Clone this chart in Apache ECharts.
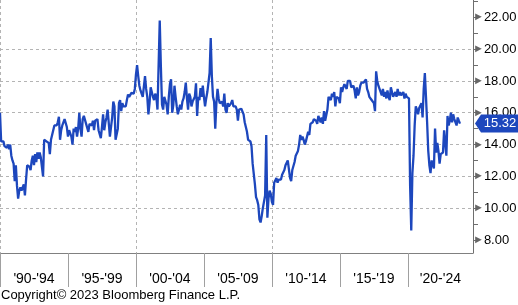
<!DOCTYPE html>
<html><head><meta charset="utf-8">
<script src="https://cdn.jsdelivr.net/npm/echarts@6/dist/echarts.min.js"></script>
<style>html,body{margin:0;padding:0;background:#fff}#c{width:518px;height:305px}</style>
</head><body><div id="c"></div>
<script>
// Monthly values, Jan 1990 .. Nov 2023 (month index 0 = Jan 1990)
const sales1990_94 = [
  16.0, 14.2, 14.1, 14.2, 13.9, 13.9, 13.8, 14.0, 13.7, 14.0, 13.3, 13.0,
  12.8, 11.7, 12.7, 11.4, 10.6, 11.1, 11.3, 11.1, 11.3, 11.5, 10.8, 11.8,
  12.7, 12.8, 12.6, 12.4, 13.0, 13.3, 12.7, 13.4, 12.9, 13.5, 13.1, 13.5,
  13.2, 13.3, 12.0, 14.3, 14.3, 14.2, 14.2, 14.1, 13.4, 14.3, 14.6, 14.7,
  15.2, 15.3, 15.2, 15.4, 15.75, 14.3, 14.9, 15.2, 15.1, 15.6, 15.5, 15.1
];
const sales1995_99 = [
  14.5, 14.9, 14.8, 14.5, 14.0, 15.0, 14.8, 15.1, 14.5, 15.0, 16.0, 15.0,
  14.5, 15.6, 15.8, 15.7, 15.3, 15.3, 14.8, 15.3, 15.2, 15.2, 15.5, 14.9,
  15.5, 15.4, 15.6, 14.9, 14.8, 14.4, 15.1, 15.9, 14.9, 15.4, 15.7, 16.2,
  16.2, 14.5, 15.1, 15.7, 16.7, 16.4, 14.3, 14.4, 15.0, 16.6, 16.8, 16.1,
  16.6, 16.4, 16.5, 16.4, 16.8, 17.15, 17.0, 17.1, 17.25, 17.25, 17.2, 17.5
];
const sales2000_04 = [
  18.4, 19.0, 18.3, 17.7, 17.4, 17.2, 17.0, 17.0, 18.3, 17.5, 17.0, 15.9,
  16.6, 17.6, 17.3, 17.0, 16.8, 17.2, 17.0, 16.2, 16.1, 21.8, 18.9, 16.5,
  16.2, 17.0, 17.0, 16.5, 15.9, 17.0, 17.8, 18.1, 16.0, 16.5, 17.7, 17.0,
  16.4, 15.9, 16.2, 16.5, 16.2, 16.7, 16.9, 17.3, 17.9, 16.9, 16.2, 17.2,
  17.0, 16.4, 16.7, 16.6, 17.0, 17.85, 15.8, 17.0, 16.8, 17.55, 17.0, 17.7
];
const sales2005_09 = [
  17.0, 16.4, 16.9, 17.3, 17.3, 18.5, 20.7, 18.3, 17.0, 16.7, 15.0, 16.6,
  17.5, 16.9, 16.6, 16.6, 16.7, 16.4, 17.2, 16.2, 16.0, 16.6, 16.4, 16.5,
  16.6, 16.8, 16.4, 16.5, 16.4, 16.2, 15.5, 16.2, 16.3, 16.25, 16.2, 15.9,
  15.4, 15.1, 14.8, 14.3, 14.4, 14.2, 13.9, 12.8, 12.7, 11.5, 10.7, 10.5,
  10.2, 9.3, 9.1, 9.5, 10.0, 10.0, 10.8, 14.6, 9.4, 10.6, 11.1, 10.9
];
const sales2010_14 = [
  10.4, 10.2, 11.6, 11.6, 11.9, 11.6, 11.8, 11.7, 11.8, 12.1, 12.2, 12.4,
  12.7, 12.8, 13.0, 13.1, 11.9, 11.7, 12.4, 12.5, 12.9, 13.3, 13.3, 13.6,
  14.0, 14.6, 14.3, 14.5, 14.3, 14.0, 14.2, 14.3, 14.8, 14.6, 15.3, 15.3,
  15.4, 15.6, 15.5, 15.5, 15.3, 15.8, 15.7, 15.4, 15.7, 15.3, 16.1, 15.5,
  15.4, 16.2, 17.0, 16.9, 16.8, 17.2, 17.0, 17.3, 16.4, 17.0, 17.0, 16.9
];
const sales2015_19 = [
  16.6, 17.6, 17.3, 17.6, 17.8, 17.7, 17.5, 18.0, 18.1, 18.0, 17.6, 17.7,
  17.7, 17.4, 16.9, 17.6, 17.1, 17.3, 17.7, 17.9, 17.85, 17.9, 18.0, 18.1,
  17.5, 17.3, 17.0, 17.1, 16.8, 16.9, 16.6, 16.1, 18.6, 18.0, 17.7, 17.8,
  17.3, 17.1, 17.5, 17.0, 17.3, 16.9, 17.4, 17.0, 16.8, 17.6, 17.5, 17.0,
  16.9, 17.3, 17.0, 17.5, 17.1, 17.3, 17.1, 17.0, 17.3, 16.9, 17.2, 17.0
];
const sales2020_23 = [
  17.1, 16.9, 11.4, 8.6, 12.2, 13.3, 15.2, 16.4, 16.2, 15.9, 16.3, 16.4,
  16.6, 15.7, 17.5, 18.5, 17.0, 15.4, 13.6, 12.7, 12.2, 13.0, 12.9, 12.5,
  15.0, 13.5, 14.1, 13.6, 12.8, 13.4, 13.3, 13.5, 14.9, 14.1, 13.3, 15.8,
  15.2, 15.5, 16.0, 15.4, 15.9, 15.6, 15.6, 15.2, 15.7, 15.5, 15.32
];

const periodLabels = ["'90-'94", "'95-'99", "'00-'04", "'05-'09", "'10-'14", "'15-'19", "'20-'24"];
const periodStarts = [0, 60, 120, 180, 240, 300, 360];          // month index of each 5-year block
const periodLabelAt = [30, 90, 150, 210, 270, 330, 388.75];      // label centres (month index)
const decadeLines = [0, 120, 240, 360];
const yTicks = [8, 10, 12, 14, 16, 18, 20, 22];
const yAllTicks = [8, 9, 10, 11, 12, 13, 14, 15, 16, 17, 18, 19, 20, 21, 22, 23];
const copyrightText = 'Copyright\u00A9 2023 Bloomberg Finance L.P.';

const X_MAX = 417.5, Y_MIN = 7.18, Y_MAX = 23.09;
const GRID_W = 473;
const FONT = 'Liberation Sans';
const LINE_COLOR = '#1d47bd';

const allValues = [].concat(sales1990_94, sales1995_99, sales2000_04, sales2005_09, sales2010_14, sales2015_19, sales2020_23);
const seriesData = allValues.map((v, i) => [i, v]);
const lastValue = allValues[allValues.length - 1];

const chart = echarts.init(document.getElementById('c'), null, {renderer: 'canvas'});
chart.setOption({
  animation: false,
  backgroundColor: '#fff',
  title: {
    text: copyrightText, left: 1, top: 289, padding: 0,
    textStyle: {fontSize: 13, fontWeight: 'normal', color: '#000', fontFamily: FONT}
  },
  grid: {left: 0, right: 518 - GRID_W, top: 0, bottom: 52, containLabel: false, outerBoundsMode: 'none'},
  xAxis: [
    {
      type: 'value', min: 0, max: X_MAX, position: 'bottom',
      axisLine: {show: true, onZero: false, lineStyle: {color: '#808080', width: 1}},
      axisTick: {show: true, customValues: periodStarts, length: 34, inside: false, lineStyle: {color: '#a0a0a0', width: 1}},
      axisLabel: {
        show: true, customValues: periodLabelAt, margin: 19,
        fontSize: 14, color: '#000', fontFamily: FONT,
        formatter: v => { const i = periodLabelAt.indexOf(v); return i >= 0 ? periodLabels[i] : ''; }
      },
      splitLine: {show: false}
    },
    {
      type: 'value', min: 0, max: X_MAX, position: 'bottom',
      axisLine: {show: false, onZero: false},
      axisTick: {show: false, customValues: decadeLines},
      axisLabel: {show: false},
      splitLine: {show: true, showMinLine: true, showMaxLine: false, lineStyle: {color: '#b4b4b4', type: [3, 3], width: 1}}
    }
  ],
  yAxis: [
    {
      type: 'value', min: Y_MIN, max: Y_MAX, position: 'right',
      axisLine: {show: true, onZero: false, lineStyle: {color: '#6e6e6e', width: 1}},
      axisTick: {show: true, customValues: yAllTicks, length: 5, inside: false, lineStyle: {color: '#6e6e6e', width: 1}},
      axisLabel: {
        show: true, customValues: yTicks, margin: 0,
        formatter: v => '{t|\u25BA}{v|' + v.toFixed(2) + '}',
        rich: {
          t: {fontSize: 11, color: '#666666', fontFamily: FONT},
          v: {fontSize: 13, color: '#000', fontFamily: FONT, padding: [0, 0, 0, 0]}
        }
      },
      splitLine: {show: false}
    },
    {
      // horizontal dashed grid lines only
      type: 'value', min: Y_MIN, max: Y_MAX, position: 'left',
      axisLine: {show: false, onZero: false},
      axisTick: {show: false, customValues: yTicks},
      axisLabel: {show: false},
      splitLine: {show: true, showMinLine: false, showMaxLine: false, lineStyle: {color: '#b4b4b4', type: [3, 3], width: 1}}
    }
  ],
  series: [{
    type: 'line', xAxisIndex: 0, yAxisIndex: 0,
    data: seriesData, showSymbol: false, symbol: 'none',
    lineStyle: {color: LINE_COLOR, width: 2.3},
    z: 3,
    markPoint: {
      silent: true,
      symbol: 'path://M0,9L6,0L46,0L46,18L6,18Z',
      symbolSize: [46, 18],
      symbolOffset: [25, 0],
      itemStyle: {color: LINE_COLOR},
      label: {show: true, position: 'inside', color: '#fff', fontSize: 13, fontFamily: FONT, offset: [2, 0],
               formatter: () => lastValue.toFixed(2)},
      data: [{coord: [X_MAX, lastValue]}]
    }
  }]
});
</script></body></html>
